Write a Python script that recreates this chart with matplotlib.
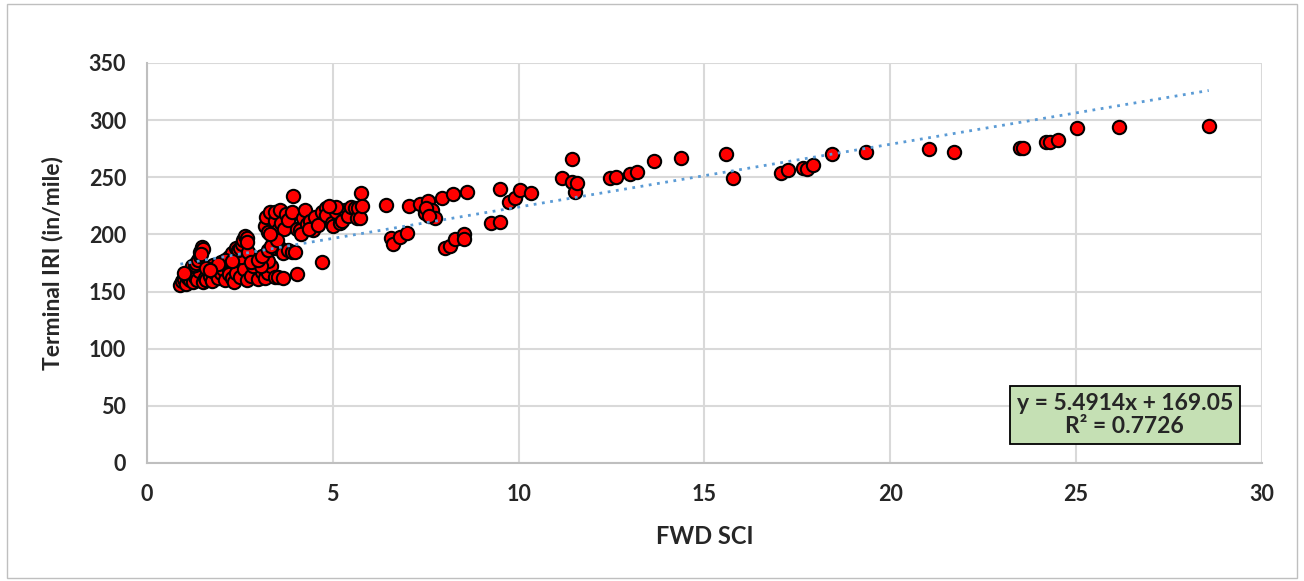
import matplotlib
matplotlib.use("Agg")
import matplotlib.pyplot as plt
from matplotlib.patches import Rectangle
import numpy as np

# FWD SCI vs terminal IRI
sci = [
    # low band near 160
    0.90, 0.95, 1.00, 1.05, 1.10, 1.15, 1.20, 1.25, 1.30, 1.35, 1.40, 1.50,
    1.55, 1.60, 1.70, 1.75, 1.80, 1.90, 2.00, 2.05, 2.10, 2.15, 2.20, 2.30,
    2.35, 2.40, 2.50, 2.60, 2.70, 2.80, 2.90, 3.00, 3.10, 3.17, 3.26, 3.35,
    3.45, 3.53, 3.67, 1.20, 1.30, 1.00, 1.78, 2.54, 3.26, 4.03, 4.70,
    # streaks rising out of the low band
    1.33, 1.38, 1.43, 1.43, 1.47, 1.50, 1.45,
    2.20, 2.30, 2.40, 2.45, 2.50, 2.55, 2.59, 2.64, 2.70, 2.72, 2.68, 2.00,
    2.10, 1.90, 1.60, 1.70, 2.86, 3.08, 2.30, 2.80, 3.00, 3.10,
    # middle cluster
    3.17, 3.26, 3.20, 3.30, 3.44, 3.44, 3.53, 3.58, 3.60, 3.70, 3.75, 3.80,
    3.90, 3.94, 4.03, 4.12, 4.21, 4.25, 4.30, 4.40, 4.48, 4.52, 3.26, 3.44,
    3.58, 3.67, 3.80, 3.89, 3.98, 3.35, 3.50, 3.30, 4.15, 4.35,
    # upper cluster
    4.60, 4.70, 4.83, 4.83, 4.97, 5.00, 5.10, 5.19, 5.25, 5.33, 5.42, 5.50,
    5.60, 5.64, 5.69, 5.73, 5.76, 5.78, 5.10, 4.90,
    # mid range
    6.43, 6.58, 6.63, 6.81, 7.00, 7.06, 7.34, 7.48, 7.57, 7.66, 7.75, 7.95,
    8.02, 8.15, 8.24, 8.29, 8.54, 8.54, 8.60, 9.27, 9.50, 9.50, 9.75, 9.90,
    10.05, 10.33, 7.50, 7.60,
    # right tail
    11.16, 11.45, 11.45, 11.51, 11.56, 12.46, 12.63, 13.01, 13.19, 13.64,
    14.36, 15.57, 15.76, 17.07, 17.24, 17.65, 17.75, 17.93, 18.42, 19.34,
    21.04, 21.71, 23.49, 23.57, 24.19, 24.29, 24.51, 25.02, 26.15, 28.57,
]
iri = [
    156, 159, 161, 157, 162, 160, 165, 158, 163, 160, 168, 158,
    162, 160, 164, 159, 167, 162, 166, 170, 160, 172, 165, 162,
    158, 166, 163, 170, 160, 164, 172, 161, 167, 162, 166, 172,
    163, 163, 162, 172, 173, 166, 173, 180, 177, 165, 176,
    175, 178, 181, 185, 189, 187, 183,
    180, 184, 188, 186, 188, 192, 195, 199, 197, 185, 193, 176,
    178, 174, 171, 169, 172, 172, 177, 176, 178, 181,
    207, 202, 215, 220, 212, 220, 204, 221, 210, 205, 218, 213,
    220, 234, 205, 204, 214, 221, 209, 212, 204, 215, 186, 188,
    188, 184, 186, 185, 185, 190, 195, 200, 200, 205,
    208, 220, 223, 217, 210, 207, 220, 210, 212, 221, 216, 224,
    223, 214, 223, 214, 236, 225, 224, 225,
    226, 197, 192, 198, 201, 225, 227, 219, 229, 221, 214, 232,
    188, 190, 235, 196, 200, 196, 237, 210, 211, 240, 228, 232,
    239, 236, 223, 216,
    249, 266, 246, 237, 245, 249, 250, 253, 255, 264,
    267, 270, 249, 254, 256, 258, 257, 261, 270, 272,
    275, 272, 276, 276, 281, 281, 283, 293, 294, 295,
]

slope = 5.4914
intercept = 169.05
r2 = 0.7726

plt.rcParams['font.family'] = ['Lato', 'DejaVu Sans']
plt.rcParams['font.weight'] = 'bold'

fig = plt.figure(figsize=(13.04, 5.81), dpi=100)
ax = fig.add_axes([0.1127, 0.2031, 0.855, 0.6885])

ax.scatter(sci, iri, s=92, c='#ff0000', edgecolors='black', linewidths=1.5, zorder=3)

tx = np.array([min(sci), max(sci)])
ax.plot(tx, slope * tx + intercept, ls=(0, (1, 2)), color='#5b9bd5', lw=2, zorder=4)

ax.set_xlim(0, 30)
ax.set_ylim(0, 350)
ax.set_xticks(range(0, 31, 5))
ax.set_yticks(range(0, 351, 50))
ax.grid(True, color='#d9d9d9', lw=1.5)
ax.set_axisbelow(True)
for s in ['top', 'right']:
    ax.spines[s].set_visible(False)
for s in ['left', 'bottom']:
    ax.spines[s].set_color('#bfbfbf')
    ax.spines[s].set_linewidth(1.5)
ax.tick_params(length=0, labelsize=15.5, colors='#262626', pad=15)
for lab in ax.get_xticklabels() + ax.get_yticklabels():
    lab.set_fontweight('bold')

ax.set_xlabel("FWD SCI", fontsize=17, fontweight='bold', color='#262626')
ax.set_ylabel("Terminal IRI (in/mile)", fontsize=16.5, fontweight='bold', color='#262626')
ax.xaxis.set_label_coords(0.5, -0.155)
ax.yaxis.set_label_coords(-0.075, 0.5)

ax.text(0.877, 0.12, "y = 5.4914x + 169.05\nR² = 0.7726", transform=ax.transAxes,
        ha='center', va='center', fontsize=16.5, fontweight='bold', color='#262626',
        linespacing=1.15, zorder=5,
        bbox=dict(boxstyle='square,pad=0.3', facecolor='#c5e0b4', edgecolor='black', lw=1.3))

fig.patches.append(Rectangle((0.005, 0.005), 0.99, 0.988, transform=fig.transFigure,
                             fill=False, edgecolor='#bfbfbf', lw=1))

fig.savefig("out.png", dpi=100)
